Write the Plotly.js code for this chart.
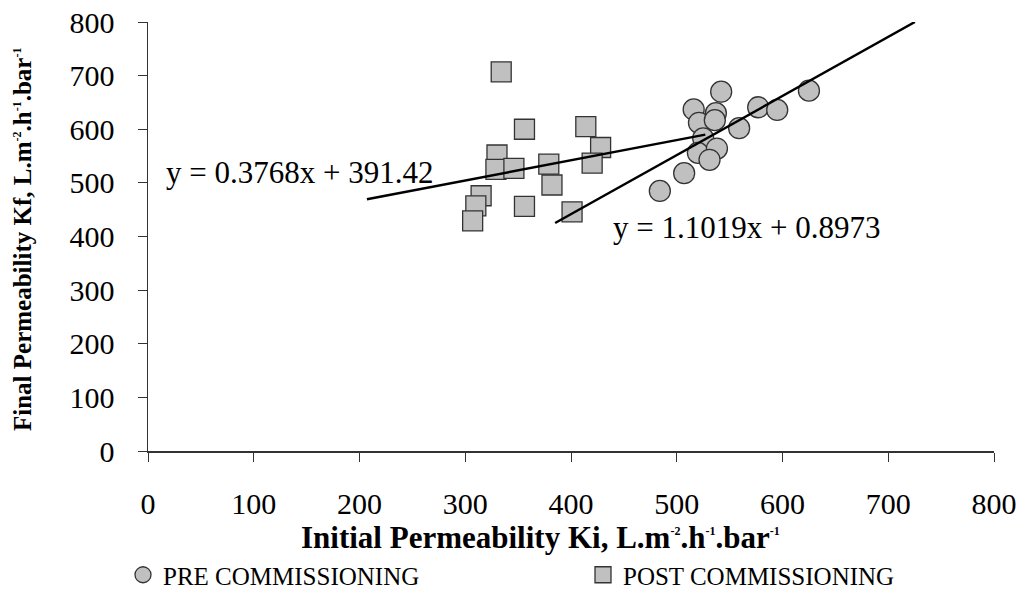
<!DOCTYPE html>
<html>
<head>
<meta charset="utf-8">
<script src="https://cdn.plot.ly/plotly-3.0.1.min.js"></script>
<style>html,body{margin:0;padding:0;background:#fff;}#chart{width:1020px;height:598px;}</style>
</head>
<body>
<div id="chart"></div>
<script>
// Data
var preKi  = [542, 625, 516, 577, 595, 537, 521, 536, 559, 525, 520, 538, 531, 507, 484];
var preKf  = [670, 672, 637, 641, 636, 630, 612, 617, 602, 583, 556, 564, 543, 518, 485];
var postKi = [334, 356, 414, 428, 330, 329, 346, 379, 420, 382, 315, 310, 307, 356, 401];
var postKf = [707, 600, 605, 566, 552, 525, 527, 535, 537, 496, 476, 457, 429, 456, 446];

var preSlope = 1.1019, preIntercept = 0.8973;
var postSlope = 0.3768, postIntercept = 391.42;
var preLineX = [385, 725.2];
var postLineX = [207, 527];

var seriesNames = ["PRE COMMISSIONING", "POST COMMISSIONING"];
var eqPre = "y = 1.1019x + 0.8973";
var eqPost = "y = 0.3768x + 391.42";
function sup(s){ return '<sup><span style="font-size:12px">' + s + '</span></sup>'; }
var xTitle = "Initial Permeability Ki, L.m" + sup("-2") + ".h" + sup("-1") + ".bar" + sup("-1");
var yTitle = "Final Permeability Kf, L.m" + sup("-2") + ".h" + sup("-1") + ".bar" + sup("-1");

var FONT = "Liberation Serif, Times New Roman, serif";

var traces = [
  {x: preKi, y: preKf, mode: "markers", type: "scatter", name: seriesNames[0], legend: "legend",
   marker: {symbol: "circle", size: 21, color: "#c0c0c0", line: {color: "#333", width: 1.3}}},
  {x: postKi, y: postKf, mode: "markers", type: "scatter", name: seriesNames[1], legend: "legend2",
   marker: {symbol: "square", size: 20, color: "#c0c0c0", line: {color: "#333", width: 1.3}}},
  {x: preLineX, y: preLineX.map(function(v){return preSlope*v+preIntercept;}), mode: "lines",
   type: "scatter", showlegend: false, line: {color: "#000", width: 2.5}},
  {x: postLineX, y: postLineX.map(function(v){return postSlope*v+postIntercept;}), mode: "lines",
   type: "scatter", showlegend: false, line: {color: "#000", width: 2.5}}
];

var legFont = {family: FONT, size: 25, color: "#000"};
var tickFont = {family: FONT, size: 30, color: "#000"};
var layout = {
  width: 1020, height: 598,
  margin: {l: 148, r: 26, t: 22, b: 147, autoexpand: false},
  paper_bgcolor: "#fff", plot_bgcolor: "#fff",
  font: {family: FONT, size: 26, color: "#000"},
  showlegend: true,
  legend: {x: (123 - 148) / 846, y: (451 - 552) / 429, xanchor: "left", yanchor: "top",
           font: legFont, bgcolor: "rgba(0,0,0,0)"},
  legend2: {x: (583 - 148) / 846, y: (451 - 552) / 429, xanchor: "left", yanchor: "top",
           font: legFont, bgcolor: "rgba(0,0,0,0)"},
  xaxis: {range: [0, 800], dtick: 100, tick0: 0, showgrid: false, zeroline: false,
          showline: true, linecolor: "#333", linewidth: 1.5, ticks: "outside", ticklen: 9,
          tickcolor: "#333", tickwidth: 1, ticklabelstandoff: 16,
          tickfont: tickFont, fixedrange: true},
  yaxis: {range: [0, 800], dtick: 100, tick0: 0, showgrid: false, zeroline: false,
          showline: true, linecolor: "#333", linewidth: 1.5, ticks: "outside", ticklen: 9,
          tickcolor: "#333", tickwidth: 1, ticklabelstandoff: 17,
          tickfont: tickFont, fixedrange: true},
  annotations: [
    {x: 143.7, y: 520, xref: "x", yref: "y", text: eqPost, showarrow: false,
     font: {family: FONT, size: 31, color: "#000"}, xanchor: "center", yanchor: "middle"},
    {x: 565.5, y: 416, xref: "x", yref: "y", text: eqPre, showarrow: false,
     font: {family: FONT, size: 31, color: "#000"}, xanchor: "center", yanchor: "middle"},
    {x: (540 - 148) / 846, y: (451 - 537) / 429, xref: "paper", yref: "paper", text: "<b>" + xTitle + "</b>",
     showarrow: false, font: {family: FONT, size: 31, color: "#000"}, xanchor: "center", yanchor: "middle"},
    {x: (22 - 148) / 846, y: (451 - 240) / 429, xref: "paper", yref: "paper", text: "<b>" + yTitle + "</b>", textangle: -90,
     showarrow: false, font: {family: FONT, size: 25, color: "#000"}, xanchor: "center", yanchor: "middle"}
  ]
};

Plotly.newPlot("chart", traces, layout, {displayModeBar: false, staticPlot: true});
</script>
</body>
</html>
